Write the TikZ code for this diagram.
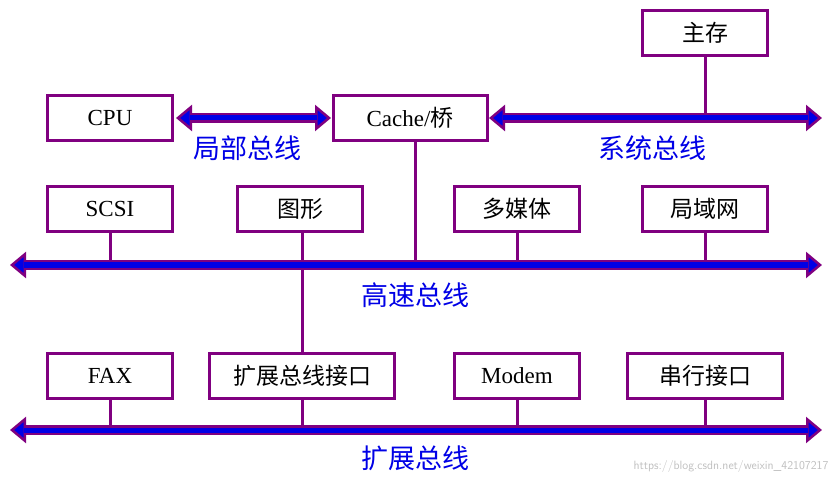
\documentclass[tikz,border=0pt]{standalone}
\usepackage{fontspec}
\setmainfont{Liberation Serif}
\newfontfamily\cjk{Noto Sans CJK SC}
\usetikzlibrary{arrows.meta}
\definecolor{pur}{RGB}{128,0,128}
\definecolor{bl}{RGB}{0,0,230}
\begin{document}
\begin{tikzpicture}[x=1pt,y=-1pt,
 box/.style={draw=pur,line width=3pt,minimum height=45pt,inner sep=0pt,font=\fontsize{23}{23}\selectfont},
 lbl/.style={text=bl,font=\cjk\fontsize{27}{27}\selectfont},
 vl/.style={draw=pur,line width=3pt},
 busout/.style={draw=pur,line width=10pt,{Triangle[length=16pt,width=26pt,fill=bl,line width=2.5pt]}-{Triangle[length=16pt,width=26pt,fill=bl,line width=2.5pt]}},
 busin/.style={draw=bl,line width=5pt,shorten <=14pt,shorten >=14pt}]
\useasboundingbox (0,0) rectangle (839,484);
\node[box,minimum width=125pt] (mem) at (705,33) {\cjk 主存};
\node[box,minimum width=125pt] (cpu) at (110,118) {CPU};
\node[box,minimum width=154pt] (cache) at (410,118) {Cache/{\cjk 桥}};
\node[box,minimum width=125pt] (scsi) at (110,209) {SCSI};
\node[box,minimum width=125pt] (gfx) at (300,209) {\cjk 图形};
\node[box,minimum width=125pt] (mm) at (517,209) {\cjk 多媒体};
\node[box,minimum width=125pt] (lan) at (705,209) {\cjk 局域网};
\node[box,minimum width=125pt] (fax) at (110,376) {FAX};
\node[box,minimum width=185pt] (ebi) at (302,376) {\cjk 扩展总线接口};
\node[box,minimum width=125pt] (modem) at (517,376) {Modem};
\node[box,minimum width=155pt] (ser) at (705,376) {\cjk 串行接口};
\coordinate (lb1) at (176,118); \coordinate (lb2) at (331,118);
\coordinate (sb1) at (489,118); \coordinate (sb2) at (822,118);
\coordinate (hb1) at (10,265); \coordinate (hb2) at (822,265);
\coordinate (eb1) at (10,430); \coordinate (eb2) at (822,430);
\draw[vl] (mem.south) -- (705,118);
\draw[vl] (415,140) -- (415,265);
\foreach \n in {scsi,mm,lan}{\draw[vl] (\n.south) -- (\n.south|-hb1);}
\draw[vl] (302,231) -- (ebi.north);
\foreach \n in {fax,ebi,modem,ser}{\draw[vl] (\n.south) -- (\n.south|-eb1);}
\foreach \a/\b in {lb1/lb2,sb1/sb2,hb1/hb2,eb1/eb2}{
 \draw[busout] (\a) -- (\b);
 \draw[busin] (\a) -- (\b);}
\node[lbl] (l1) at (247,148) {局部总线};
\node[lbl] (l2) at (652,148) {系统总线};
\node[lbl] (l3) at (415,295) {高速总线};
\node[lbl] (l4) at (415,458) {扩展总线};
\node[text=black!25,font=\sffamily\fontsize{12}{12}\selectfont,anchor=east] (wm) at (832,466) {https://blog.csdn.net/weixin\_42107217};
\end{tikzpicture}
\end{document}
